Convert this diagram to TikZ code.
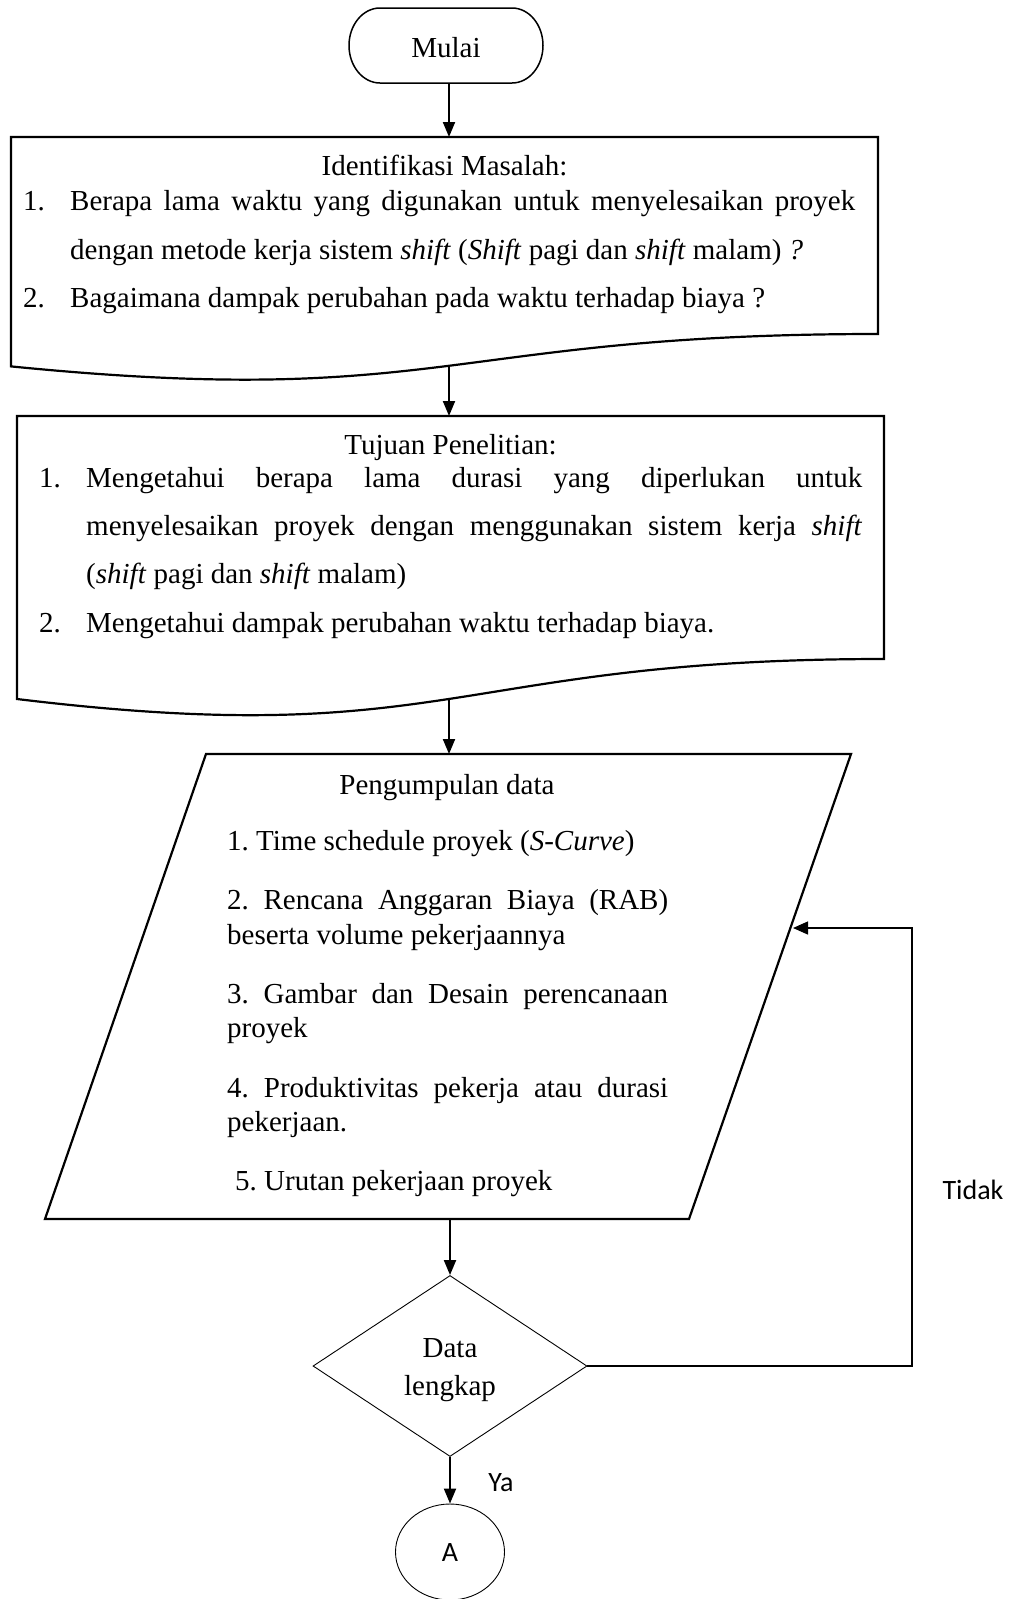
\documentclass[tikz,border=0pt]{standalone}
\usepackage{fontspec}
\setmainfont{Liberation Serif}
\newfontfamily\calib{Carlito}
\usetikzlibrary{arrows.meta,shapes.geometric}
\begin{document}
\frenchspacing
\begin{tikzpicture}[x=1pt,y=-1pt,
  txt/.style={inner sep=0pt, anchor=base west, font=\fontsize{29}{38}\selectfont},
  ctxt/.style={txt, anchor=base},
  lbl/.style={inner sep=0pt, anchor=base, font=\calib\fontsize{28}{34}\selectfont},
  thickline/.style={line width=2.2pt, line join=miter},
  arr/.style={line width=2pt, -{Triangle[length=15pt,width=12pt]}},
  fbarr/.style={line width=1.3pt, -{Triangle[length=15pt,width=13pt]}}]
\useasboundingbox (0,0) rectangle (1018,1599);

% Terminal
\draw[line width=1.5pt] (380,8) -- (512,8)
  .. controls (529.1,8) and (543,24.8) .. (543,45.5)
  .. controls (543,66.2) and (529.1,83) .. (512,83)
  -- (380,83)
  .. controls (362.9,83) and (349,66.2) .. (349,45.5)
  .. controls (349,24.8) and (362.9,8) .. (380,8) -- cycle;
\node[ctxt] (mulai) at (446,57) {Mulai};

% Document 1
\draw[thickline] (11,137) -- (878,137) -- (878,334)
  .. controls (444.5,334) and (444.5,409.4) .. (11,366.4) -- cycle;
\node[ctxt] (d1title) at (444.5,175) {Identifikasi Masalah:};
\node[txt] (d1n1) at (23,210) {1.};
\node[txt] (d1l1) at (70,210) {\makebox[785pt][s]{Berapa lama waktu yang digunakan untuk menyelesaikan proyek}};
\node[txt] (d1l2) at (70,259) {dengan metode kerja sistem \textit{shift} (\textit{Shift} pagi dan \textit{shift} malam) \textit{?}};
\node[txt] (d1n2) at (23,307) {2.};
\node[txt] (d1l3) at (70,307) {Bagaimana dampak perubahan pada waktu terhadap biaya ?};

% Document 2
\draw[thickline] (17,416) -- (884,416) -- (884,659)
  .. controls (450.5,659) and (450.5,751.6) .. (17,699) -- cycle;
\node[ctxt] (d2title) at (450.5,454) {Tujuan Penelitian:};
\node[txt] (d2n1) at (39,487) {1.};
\node[txt] (d2l1) at (86,487) {\makebox[776pt][s]{Mengetahui berapa lama durasi yang diperlukan untuk}};
\node[txt] (d2l2) at (86,535) {\makebox[776pt][s]{menyelesaikan proyek dengan menggunakan sistem kerja \textit{shift}}};
\node[txt] (d2l3) at (86,583) {(\textit{shift} pagi dan \textit{shift} malam)};
\node[txt] (d2n2) at (39,632) {2.};
\node[txt] (d2l4) at (86,632) {Mengetahui dampak perubahan waktu terhadap biaya.};

% Parallelogram
\draw[thickline] (206,754) -- (851,754) -- (689,1219) -- (45,1219) -- cycle;
\node[ctxt] (ptitle) at (447,794) {Pengumpulan data};
\node[txt] (p1) at (227,850) {1. Time schedule proyek (\textit{S-Curve})};
\node[txt] (p2a) at (227,909) {\makebox[441pt][s]{2. Rencana Anggaran Biaya (RAB)}};
\node[txt] (p2b) at (227,944) {beserta volume pekerjaannya};
\node[txt] (p3a) at (227,1003) {\makebox[441pt][s]{3. Gambar dan Desain perencanaan}};
\node[txt] (p3b) at (227,1037) {proyek};
\node[txt] (p4a) at (227,1097) {\makebox[441pt][s]{4. Produktivitas pekerja atau durasi}};
\node[txt] (p4b) at (227,1131) {pekerjaan.};
\node[txt] (p5) at (235,1190) {5. Urutan pekerjaan proyek};

% Decision
\node[draw, diamond, line width=0.9pt, minimum width=274pt, minimum height=181pt, inner sep=0pt] (dia) at (450,1366) {};
\node[ctxt] (diat1) at (450,1357) {Data};
\node[ctxt] (diat2) at (450,1395) {lengkap};

% Connector A
\node[draw, ellipse, line width=0.9pt, minimum width=109pt, minimum height=96pt, inner sep=0pt] (cA) at (450,1552) {};
\node[lbl] (atxt) at (450,1561) {A};

% Connector coordinates
\coordinate (mout) at (449,83);
\coordinate (d1in) at (449,137);
\coordinate (d1out) at (449,367);
\coordinate (d2in) at (449,416);
\coordinate (d2out) at (449,699);
\coordinate (pin) at (449,754);
\coordinate (pout) at (450,1219);
\coordinate (fbc) at (912,1366);
\coordinate (pfb) at (793,928);

\draw[arr] (mout) -- (d1in);
\draw[arr] (d1out) -- (d2in);
\draw[arr] (d2out) -- (pin);
\draw[arr] (pout) -- (dia.north);
\draw[arr] (dia.south) -- (cA.north);
\draw[fbarr] (dia.east) -- (fbc) |- (pfb);

\node[lbl] (ya) at (501,1491) {Ya};
\node[lbl] (tidak) at (973,1199) {Tidak};
\end{tikzpicture}
\end{document}
